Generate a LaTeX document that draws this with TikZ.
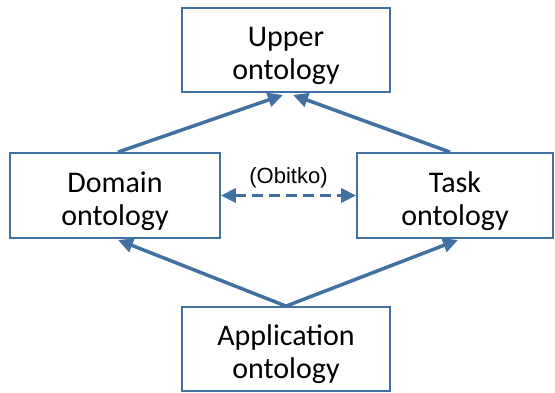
\documentclass[tikz,border=0pt]{standalone}
\usepackage{fontspec}
\setmainfont{Carlito}
\newfontfamily\labfont{Liberation Sans}
\usetikzlibrary{arrows.meta}
\definecolor{boxblue}{RGB}{65,113,163}
\newcommand\topstrut{\rule{0pt}{32pt}}
\begin{document}
\begin{tikzpicture}[x=1pt,y=-1pt,
  box/.style={draw=boxblue,line width=1.8pt,fill=white,inner sep=0pt,align=center,
    font=\fontsize{30}{33}\selectfont},
  arr/.style={draw=boxblue,line width=3.5pt,-{Triangle[length=15pt,width=14pt]}},
  darr/.style={draw=boxblue,line width=3.5pt,dash pattern=on 11pt off 6pt,
    {Triangle[length=15pt,width=14pt]}-{Triangle[length=15pt,width=14pt]}}]
\useasboundingbox (0,0) rectangle (555,392);
\node[box,minimum width=208pt,minimum height=84pt] (up) at (286,50) {\topstrut Upper\\ontology};
\node[box,minimum width=210pt,minimum height=85pt] (dom) at (115,195.5) {\topstrut Domain\\ontology};
\node[box,minimum width=196pt,minimum height=85pt] (task) at (455,195.5) {\topstrut Task\\ontology};
\node[box,minimum width=208pt,minimum height=84pt] (app) at (286,349) {\topstrut Application\\ontology};
\coordinate (domtop) at ([xshift=3pt]dom.north);
\coordinate (tasktop) at ([xshift=-5pt]task.north);
\draw[arr] (domtop) -- ([xshift=-3pt,yshift=-2pt]up.south);
\draw[arr] (tasktop) -- ([xshift=7pt,yshift=-2pt]up.south);
\draw[arr] (app.north) -- ([xshift=3pt,yshift=-1pt]dom.south);
\draw[arr] (app.north) -- ([xshift=3pt,yshift=-1pt]task.south);
\draw[darr] (dom.east) -- node[above=2pt,font=\labfont\fontsize{22}{25}\selectfont,text=black] (lab) {(Obitko)} (task.west);
\end{tikzpicture}
\end{document}
